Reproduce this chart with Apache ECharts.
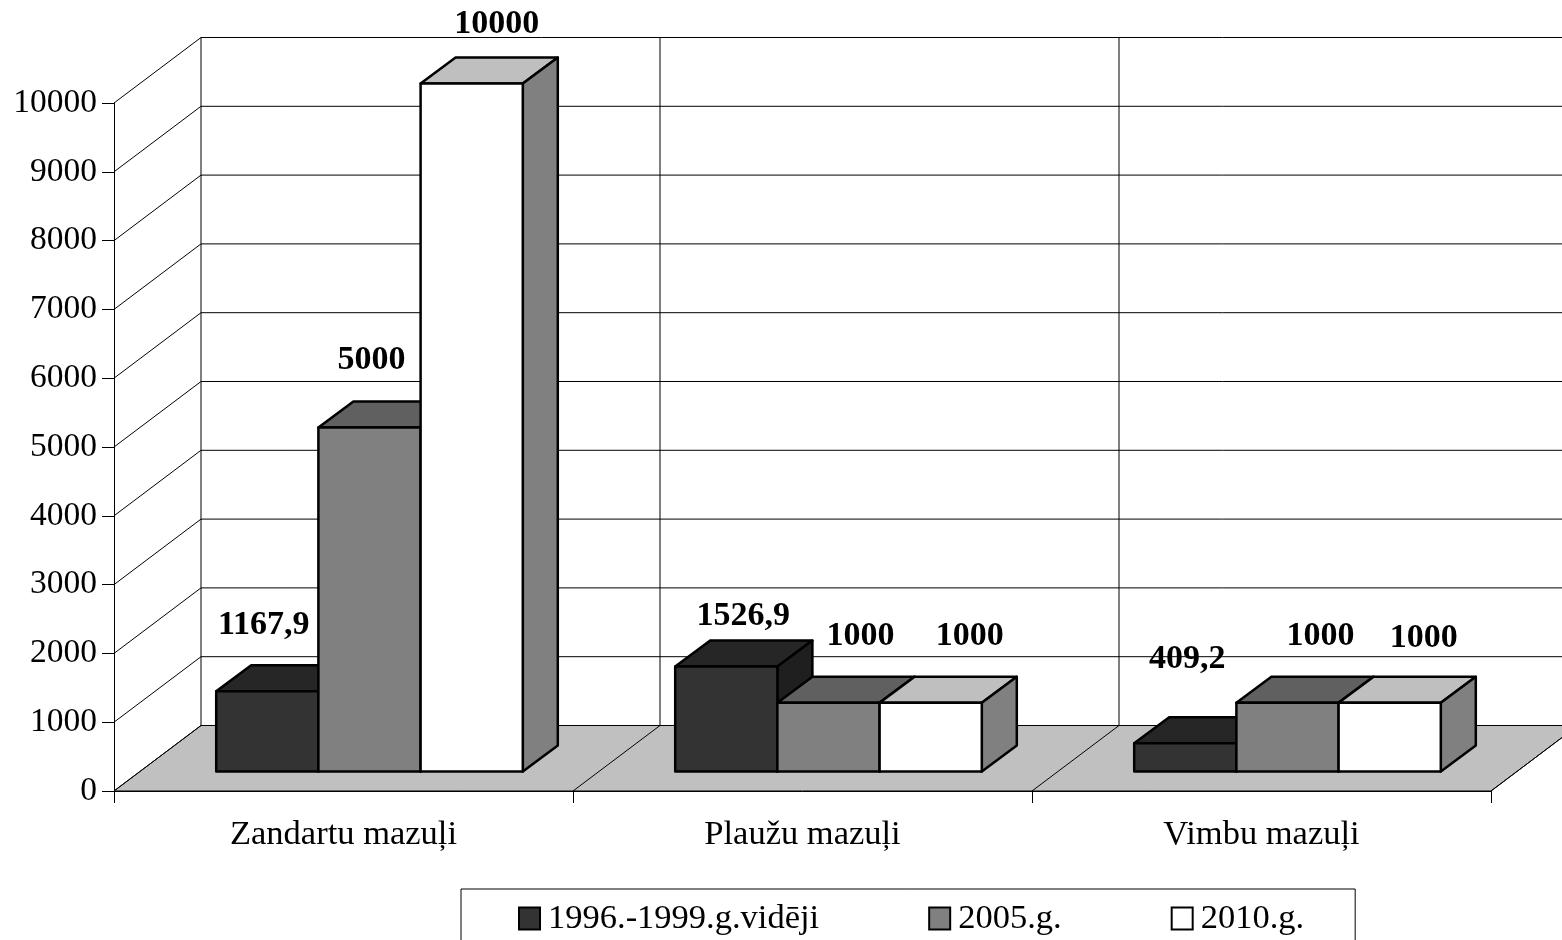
<!DOCTYPE html>
<html>
<head>
<meta charset="utf-8">
<style>html,body{margin:0;padding:0;background:#fff;overflow:hidden}#c{width:1562px;height:940px}</style>
<script src="https://cdn.jsdelivr.net/npm/echarts@6/dist/echarts.min.js"></script>
</head>
<body>
<div id="c"></div>
<script>
var categories = ['Zandartu mazuļi', 'Plaužu mazuļi', 'Vimbu mazuļi'];
var seriesNames = ['1996.-1999.g.vidēji', '2005.g.', '2010.g.'];
var avg1996to1999 = [1167.9, 1526.9, 409.2];
var year2005 = [5000, 1000, 1000];
var year2010 = [10000, 1000, 1000];
var yTicks = [0, 1000, 2000, 3000, 4000, 5000, 6000, 7000, 8000, 9000, 10000];

// 3D projection and look (pixels)
var WALL_DX = 87, WALL_DY = 65.5;
var BAR_DX = 35, BAR_DY = 26;
var FLOOR_DX = 26, FLOOR_DY = 19.5;
var BAR_FRACTION = 102.2 / 459;
var FONT = '"Liberation Serif","Times New Roman",serif';
var faces = [
  { front: '#333333', top: '#262626', side: '#1f1f1f' },
  { front: '#808080', top: '#606060', side: '#606060' },
  { front: '#ffffff', top: '#bfbfbf', side: '#808080' }
];
// data label nudges relative to the centre of the top front edge
var labelNudges = [
  [[-3.5, -65.5], [17, -50.5], [2, -84]],
  [[2, -67.5], [32, -66], [33, -66]],
  [[25, -59.5], [39, -66], [34, -64]]
];

function line(p, q) {
  return { type: 'line', shape: { x1: p[0], y1: p[1], x2: q[0], y2: q[1] },
    style: { stroke: '#000', lineWidth: 1, fill: null } };
}
function back(p) { return [p[0] + WALL_DX, p[1] - WALL_DY]; }

function renderFrame(params, api) {
  var band = api.size([1, 0])[0];
  var kids = [];
  var x0 = api.coord([0, 0])[0] - band / 2;
  var y0 = api.coord([0, 0])[1];
  var edges = categories.length;
  var xEnd = x0 + band * edges;
  kids.push({ type: 'polygon', shape: { points: [[x0, y0], [xEnd, y0], back([xEnd, y0]), back([x0, y0])] },
    style: { fill: '#c0c0c0', stroke: '#000', lineWidth: 1 } });
  yTicks.forEach(function (t) {
    if (t === 0) return;
    var y = api.coord([0, t])[1];
    kids.push(line([x0, y], back([x0, y])));
    kids.push(line(back([x0, y]), back([xEnd, y])));
  });
  var yTop = api.coord([0, yTicks[yTicks.length - 1]])[1];
  for (var i = 0; i <= edges; i++) {
    var x = x0 + band * i;
    kids.push(line(back([x, y0]), back([x, yTop])));
    kids.push(line([x, y0], back([x, y0])));
  }
  return { type: 'group', children: kids };
}

function barRenderer(s) {
  return function (params, api) {
    var c = api.value(0), v = api.value(1);
    var band = api.size([1, 0])[0];
    var w = band * BAR_FRACTION;
    var base = api.coord([c, 0]);
    var topPt = api.coord([c, v]);
    var xl = base[0] + FLOOR_DX + (s - 1.5) * w;
    var xr = xl + w;
    var yb = base[1] - FLOOR_DY;
    var yt = topPt[1] - FLOOR_DY;
    var st = function (fill) {
      return { fill: fill, stroke: '#000', lineWidth: 2.5, lineJoin: 'round' };
    };
    var nudge = labelNudges[s][c];
    return { type: 'group', children: [
      { type: 'polygon', shape: { points: [[xl, yt], [xr, yt], [xr + BAR_DX, yt - BAR_DY], [xl + BAR_DX, yt - BAR_DY]] }, style: st(faces[s].top) },
      { type: 'polygon', shape: { points: [[xr, yt], [xr + BAR_DX, yt - BAR_DY], [xr + BAR_DX, yb - BAR_DY], [xr, yb]] }, style: st(faces[s].side) },
      { type: 'polygon', shape: { points: [[xl, yt], [xr, yt], [xr, yb], [xl, yb]] }, style: st(faces[s].front) },
      { type: 'text', z2: 10, style: {
          x: (xl + xr) / 2 + nudge[0], y: yt + nudge[1],
          text: String(v).replace('.', ','), fill: '#000',
          font: 'bold 34px ' + FONT, align: 'center', verticalAlign: 'middle' } }
    ] };
  };
}

function pairs(values) { return values.map(function (v, i) { return [i, v]; }); }

var chart = echarts.init(document.getElementById('c'), null, { renderer: 'canvas' });
chart.setOption({
  animation: false,
  backgroundColor: '#fff',
  textStyle: { fontFamily: FONT },
  grid: { left: 114, right: 71, top: 103, bottom: 149, containLabel: false },
  xAxis: {
    type: 'category', data: categories, z: 5,
    axisLine: { lineStyle: { color: '#000', width: 1 } },
    axisTick: { show: true, length: 12, lineStyle: { color: '#000', width: 1 } },
    axisLabel: { color: '#000', fontSize: 34.5, fontFamily: FONT, margin: 26 },
    splitLine: { show: false }
  },
  yAxis: {
    type: 'value', min: 0, max: 10000, interval: 1000, z: 5,
    axisLine: { show: true, lineStyle: { color: '#000', width: 1 } },
    axisTick: { show: true, length: 12, lineStyle: { color: '#000', width: 1 } },
    axisLabel: { color: '#000', fontSize: 33.5, fontFamily: FONT, margin: 17,
      formatter: function (v) { return String(v); } },
    splitLine: { show: false }
  },
  legend: {
    left: 461, top: 889,
    data: seriesNames,
    icon: 'rect', itemWidth: 21, itemHeight: 22, itemGap: 109,
    padding: [12, 51, 40, 57],
    borderColor: '#000', borderWidth: 1,
    itemStyle: { borderColor: '#000', borderWidth: 2 },
    textStyle: { color: '#000', fontSize: 34.5, fontFamily: FONT, padding: [0, 0, 0, 3] }
  },
  series: [
    { type: 'custom', name: 'frame', z: 1, silent: true, data: [[0, 0]], encode: { x: 0, y: 1 }, renderItem: renderFrame, tooltip: { show: false } },
    { type: 'custom', name: seriesNames[0], z: 2, data: pairs(avg1996to1999), encode: { x: 0, y: 1 }, itemStyle: { color: faces[0].front }, renderItem: barRenderer(0) },
    { type: 'custom', name: seriesNames[1], z: 3, data: pairs(year2005), encode: { x: 0, y: 1 }, itemStyle: { color: faces[1].front }, renderItem: barRenderer(1) },
    { type: 'custom', name: seriesNames[2], z: 4, data: pairs(year2010), encode: { x: 0, y: 1 }, itemStyle: { color: faces[2].front }, renderItem: barRenderer(2) }
  ]
});
</script>
</body>
</html>
